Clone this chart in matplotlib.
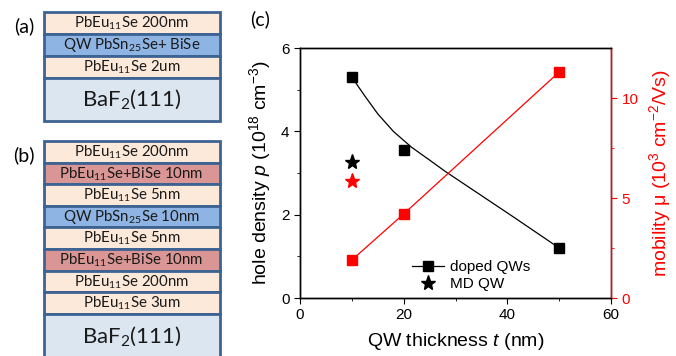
import matplotlib.pyplot as plt
from matplotlib.patches import Rectangle
from matplotlib.lines import Line2D

plt.rcParams['font.family'] = ['Liberation Sans', 'DejaVu Sans']
plt.rcParams['mathtext.default'] = 'regular'
plt.rcParams['mathtext.fontset'] = 'custom'
plt.rcParams['mathtext.it'] = 'Liberation Sans:italic'

# data for panel (c)
thickness = [10, 20, 50]
hole_density = [5.30, 3.55, 1.20]
mobility = [1.9, 4.2, 11.3]
md_thickness = [10]
md_density = [3.26]
md_mobility = [5.85]
# guide-to-the-eye curve through the hole density
fit_t = [10, 12.5, 15, 18, 21.5, 25, 28, 34.5, 41, 50]
fit_p = [5.30, 4.85, 4.42, 4.00, 3.62, 3.31, 3.04, 2.50, 1.96, 1.20]

# layer stacks for panels (a) and (b), top to bottom
peach, blue, rose, sub = '#fde9d9', '#8db4e2', '#da9694', '#dce6f1'
stack_a = ['PbEu$_{11}$Se 200nm', 'QW PbSn$_{25}$Se+ BiSe', 'PbEu$_{11}$Se 2um']
colors_a = [peach, blue, peach]
stack_b = ['PbEu$_{11}$Se 200nm', 'PbEu$_{11}$Se+BiSe 10nm', 'PbEu$_{11}$Se 5nm',
           'QW PbSn$_{25}$Se 10nm', 'PbEu$_{11}$Se 5nm', 'PbEu$_{11}$Se+BiSe 10nm',
           'PbEu$_{11}$Se 200nm', 'PbEu$_{11}$Se 3um']
colors_b = [peach, rose, peach, blue, peach, rose, peach, peach]

fig = plt.figure(figsize=(6.76, 3.56), dpi=100)

# schematic panel in pixel coordinates
sk = fig.add_axes([0, 0, 1, 1])
sk.set_xlim(0, 676)
sk.set_ylim(356, 0)
sk.axis('off')
edge = '#3d6393'


def draw_stack(top, layer_h, labels, colors, sub_h):
    y = top
    for lab, c in zip(labels, colors):
        sk.add_patch(Rectangle((43.5, y), 176, layer_h, facecolor=c,
                               edgecolor=edge, lw=2.0))
        sk.text(131.5, y + layer_h / 2 + 0.5, lab, ha='center', va='center',
                fontsize=10.8, family='Lato', color='#1a1a1a')
        y += layer_h
    sk.add_patch(Rectangle((43.5, y), 176, sub_h, facecolor=sub,
                           edgecolor=edge, lw=2.0))
    sk.text(131.5, y + 22, 'BaF$_2$(111)', ha='center', va='center',
            fontsize=16, family='Lato', color='#1a1a1a')


draw_stack(11.5, 22, stack_a, colors_a, 43)
draw_stack(141, 21.6, stack_b, colors_b, 50)
sk.text(24, 26, '(a)', ha='center', va='center', fontsize=14, family='Lato')
sk.text(24, 155, '(b)', ha='center', va='center', fontsize=14, family='Lato')
sk.text(260, 19, '(c)', ha='center', va='center', fontsize=14, family='Lato')

# panel (c)
ax = fig.add_axes([300 / 676, 1 - 298 / 356, 311 / 676, 250 / 356])
ax2 = ax.twinx()
ax.plot(fit_t, fit_p, color='black', lw=0.9)
ax.plot(thickness, hole_density, 's', color='black', ms=6.5, ls='none')
ax.plot(md_thickness, md_density, '*', color='black', ms=11, ls='none')
ax2.plot(thickness, mobility, 's-', color='red', ms=6.5, lw=0.9)
ax2.plot(md_thickness, md_mobility, '*', color='red', ms=11, ls='none')

ax.set_xlim(0, 60)
ax.set_ylim(0, 6)
ax2.set_ylim(0, 12.5)
ax.set_xticks([0, 20, 40, 60])
ax.set_xticks([10, 30, 50], minor=True)
ax.set_yticks([0, 2, 4, 6])
ax.set_yticks([1, 3, 5], minor=True)
ax2.set_yticks([0, 5, 10])
ax2.set_yticks([2.5, 7.5], minor=True)
for a in (ax, ax2):
    a.tick_params(which='both', direction='out', labelsize=11)
    a.tick_params(which='major', length=4)
    a.tick_params(which='minor', length=2.5)
    for s in a.spines.values():
        s.set_linewidth(1.0)
ax2.tick_params(axis='y', which='both', colors='red', labelcolor='red')
ax2.spines['right'].set_color('red')

ax.set_xlabel('QW thickness $\\mathit{t}$ (nm)', fontsize=14, labelpad=6)
ax.set_ylabel('hole density $\\mathit{p}$ (10$^{18}$ cm$^{-3}$)', fontsize=14,
              labelpad=6)
ax2.set_ylabel('mobility \u03bc (10$^{3}$ cm$^{-2}$/Vs)', fontsize=14,
               color='red', labelpad=6)

handles = [Line2D([], [], color='black', marker='s', ms=6.5, lw=0.9),
           Line2D([], [], color='black', marker='*', ms=11, ls='none')]
ax.legend(handles, ['doped QWs', 'MD QW'], loc='center left',
          bbox_to_anchor=(0.36, 0.09), frameon=False, fontsize=11,
          borderpad=0, borderaxespad=0, handlelength=2.1,
          handletextpad=0.4, labelspacing=0.2)

fig.savefig('out.png', dpi=100)
